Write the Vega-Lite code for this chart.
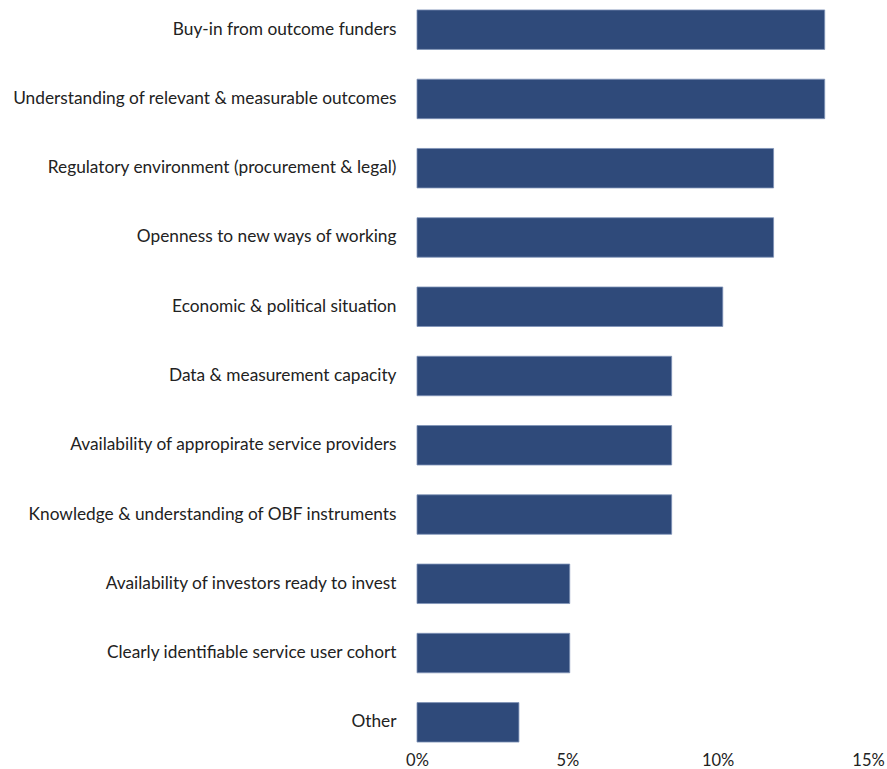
{
  "$schema": "https://vega.github.io/schema/vega-lite/v6.json",
  "autosize": {"type": "none"},
  "padding": {"left": 417, "right": 19, "top": 3, "bottom": 20},
  "width": 451,
  "height": 746,
  "background": "white",
  "data": {"values": [
    {"factor": "Buy-in from outcome funders", "share": 0.1356},
    {"factor": "Understanding of relevant & measurable outcomes", "share": 0.1356},
    {"factor": "Regulatory environment (procurement & legal)", "share": 0.1186},
    {"factor": "Openness to new ways of working", "share": 0.1186},
    {"factor": "Economic & political situation", "share": 0.1017},
    {"factor": "Data & measurement capacity", "share": 0.0847},
    {"factor": "Availability of appropirate service providers", "share": 0.0847},
    {"factor": "Knowledge & understanding of OBF instruments", "share": 0.0847},
    {"factor": "Availability of investors ready to invest", "share": 0.0508},
    {"factor": "Clearly identifiable service user cohort", "share": 0.0508},
    {"factor": "Other", "share": 0.0339}
  ]},
  "mark": {"type": "bar", "color": "#2f4a7a", "stroke": "#7f93b8", "strokeWidth": 0.8},
  "encoding": {
    "y": {
      "field": "factor", "type": "nominal", "sort": null,
      "scale": {"paddingInner": 0.43, "paddingOuter": 0.1},
      "axis": {"title": null, "domain": false, "ticks": false, "labelPadding": 21,
               "labelFont": "Lato", "labelFontSize": 17.3, "labelColor": "#222222", "labelLimit": 500}
    },
    "x": {
      "field": "share", "type": "quantitative",
      "scale": {"domain": [0, 0.15], "nice": false},
      "axis": {"title": null, "format": ".0%", "values": [0, 0.05, 0.1, 0.15], "domain": false, "ticks": false,
               "grid": false, "labelPadding": 3, "labelFont": "Lato", "labelFontSize": 16.5, "labelColor": "#222222",
               "labelFlush": false}
    }
  },
  "config": {"view": {"stroke": null}}
}
